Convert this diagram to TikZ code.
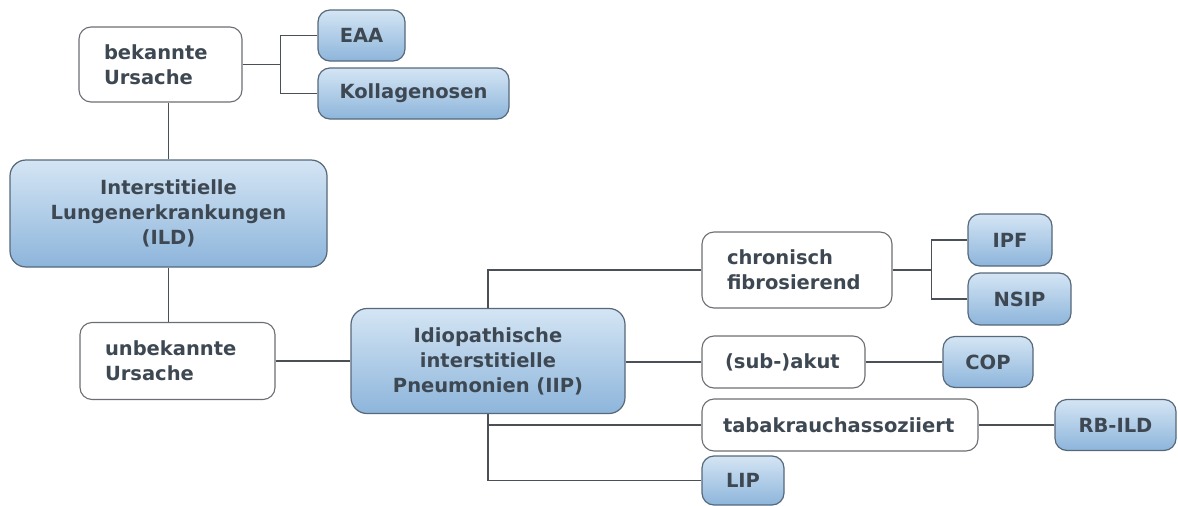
\documentclass[tikz,border=0pt]{standalone}
\usepackage{fontspec}
\usepackage{tikz}
\usepackage{xcolor}
\setmainfont{DejaVu Sans}

\definecolor{txtgray}{HTML}{3E4852}
\definecolor{linegray}{HTML}{4B5056}
\definecolor{boxtop}{HTML}{D4E5F4}
\definecolor{boxbot}{HTML}{8DB5DB}
\definecolor{bluedge}{HTML}{56687A}
\definecolor{whitedge}{HTML}{6B6E72}

\begin{document}
\begin{tikzpicture}[x=1pt, y=-1pt,
    every node/.style={font=\fontsize{19.5}{25}\selectfont\bfseries, text=txtgray},
    wbox/.style={draw=whitedge, line width=1.1pt, fill=white, rounded corners=12pt,
        align=left, inner xsep=25pt, inner ysep=0pt},
    bbox/.style={draw=bluedge, line width=1.2pt, top color=boxtop, bottom color=boxbot,
        rounded corners=12pt, align=center, inner sep=0pt},
    conn/.style={draw=linegray, line width=1.3pt}]

    \useasboundingbox (0,0) rectangle (1178,506);

    % left column
    \node[wbox, text width=113pt, minimum height=75pt] (bekannt) at (160.5,64.5) {bekannte\\Ursache};
    \node[bbox, minimum width=317pt, minimum height=107pt, rounded corners=16pt] (ild) at (168.5,213.5)
        {Interstitielle\\Lungenerkrankungen\\(ILD)};
    \node[wbox, text width=145pt, minimum height=77pt] (unbekannt) at (177.5,361) {unbekannte\\Ursache};

    % known causes
    \node[bbox, minimum width=87pt, minimum height=51pt] (eaa) at (361.5,35.5) {EAA};
    \node[bbox, minimum width=191pt, minimum height=51pt] (kollagen) at (413.5,93.5) {Kollagenosen};

    % idiopathic
    \node[bbox, minimum width=274pt, minimum height=105pt, rounded corners=16pt] (iip) at (488,361)
        {Idiopathische\\interstitielle\\Pneumonien (IIP)};

    \node[wbox, text width=140pt, minimum height=76pt] (chronisch) at (797,270) {chronisch\\fibrosierend};
    \node[wbox, inner xsep=23pt, text width=117pt, minimum height=52pt] (subakut) at (783.5,362)
        {\mbox{(sub-)akut}};
    \node[wbox, inner xsep=21pt, text width=234pt, minimum height=52pt] (tabak) at (840,425)
        {tabakrauchassoziiert};
    \node[bbox, minimum width=82pt, minimum height=49pt] (lip) at (743,480.5) {LIP};

    \node[bbox, minimum width=84pt, minimum height=52pt] (ipf) at (1010,240) {IPF};
    \node[bbox, minimum width=103pt, minimum height=52pt] (nsip) at (1019.5,299) {NSIP};
    \node[bbox, minimum width=90pt, minimum height=51pt] (cop) at (988,362) {COP};
    \node[bbox, minimum width=121pt, minimum height=51pt] (rbild) at (1115.5,425) {RB-ILD};

    % connectors
    \draw[conn] (bekannt.east) -- ++(38,0) coordinate (jk);
    \draw[conn] (eaa.west) -| (jk) |- (kollagen.west);
    \draw[conn] (ild.north) -- (ild.north |- bekannt.south);
    \draw[conn] (ild.south) -- (ild.south |- unbekannt.north);
    \draw[conn] (unbekannt.east) -- (iip.west);

    \draw[conn] (iip.north) |- (chronisch.west);
    \draw[conn] (iip.east |- subakut.west) -- (subakut.west);
    \draw[conn] (iip.south) |- (lip.west);
    \draw[conn] (iip.south |- tabak.west) -- (tabak.west);

    \draw[conn] (chronisch.east) -- ++(39,0) coordinate (jc);
    \draw[conn] (ipf.west) -| (jc) |- (nsip.west);
    \draw[conn] (subakut.east) -- (cop.west);
    \draw[conn] (tabak.east) -- (rbild.west);
\end{tikzpicture}
\end{document}
